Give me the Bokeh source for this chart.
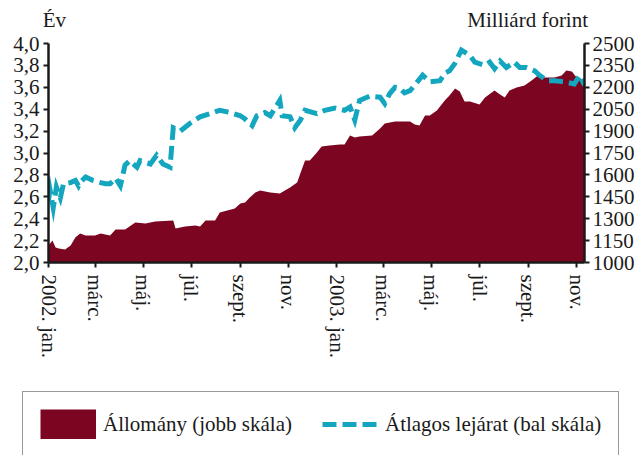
from datetime import datetime
import pandas as pd
from bokeh.plotting import figure
from bokeh.layouts import column
from bokeh.models import (Range1d, LinearAxis, FixedTicker, CustomJSTickFormatter,
                          Legend, LegendItem)
from bokeh.embed import file_html
from bokeh.resources import INLINE

# ---- data ----
stock_dates = ["2002-01-01", "2002-01-06", "2002-01-10", "2002-01-14", "2002-01-22", "2002-01-29",
               "2002-02-04", "2002-02-10", "2002-02-17", "2002-03-01", "2002-03-08", "2002-03-20",
               "2002-03-27", "2002-04-08", "2002-04-21", "2002-05-04", "2002-05-16", "2002-06-08",
               "2002-06-11", "2002-06-23", "2002-07-06", "2002-07-12", "2002-07-19", "2002-07-31",
               "2002-08-06", "2002-08-25", "2002-09-01", "2002-09-07", "2002-09-13", "2002-09-20",
               "2002-09-26", "2002-10-09", "2002-10-21", "2002-11-03", "2002-11-12", "2002-11-16",
               "2002-11-22", "2002-11-28", "2002-12-07", "2002-12-13", "2002-12-23", "2003-01-05",
               "2003-01-11", "2003-01-18", "2003-01-24", "2003-01-30", "2003-02-15", "2003-02-25",
               "2003-03-03", "2003-03-16", "2003-04-04", "2003-04-10", "2003-04-16", "2003-04-23",
               "2003-04-29", "2003-05-08", "2003-05-18", "2003-05-24", "2003-05-31", "2003-06-06",
               "2003-06-12", "2003-06-19", "2003-07-01", "2003-07-08", "2003-07-20", "2003-07-27",
               "2003-08-02", "2003-08-08", "2003-08-17", "2003-08-27", "2003-09-05", "2003-09-13",
               "2003-09-21", "2003-10-04", "2003-10-13", "2003-10-19", "2003-10-26", "2003-11-01",
               "2003-11-11"]
stock_values = [1116, 1151, 1103, 1096, 1089, 1116,
                1171, 1199, 1185, 1185, 1199, 1185,
                1226, 1226, 1274, 1267, 1281, 1288,
                1233, 1247, 1253, 1247, 1288, 1288,
                1342, 1370, 1404, 1411, 1445, 1479,
                1493, 1479, 1473, 1514, 1548, 1610,
                1699, 1699, 1753, 1795, 1801, 1808,
                1808, 1870, 1856, 1863, 1870, 1918,
                1952, 1966, 1966, 1945, 1938, 2007,
                2007, 2041, 2110, 2144, 2192, 2171,
                2103, 2103, 2082, 2130, 2178, 2151,
                2130, 2178, 2199, 2212, 2247, 2281,
                2267, 2267, 2281, 2315, 2308, 2267,
                2247]

maturity_dates = ["2002-01-01", "2002-01-03", "2002-01-07", "2002-01-11", "2002-01-16", "2002-01-20",
                  "2002-01-29", "2002-02-04", "2002-02-08", "2002-02-10", "2002-02-17", "2002-02-26",
                  "2002-03-08", "2002-03-14", "2002-03-20", "2002-03-27", "2002-04-02", "2002-04-08",
                  "2002-04-14", "2002-04-23", "2002-04-27", "2002-05-10", "2002-05-18", "2002-05-26",
                  "2002-06-04", "2002-06-08", "2002-06-17", "2002-06-29", "2002-07-12", "2002-07-25",
                  "2002-08-06", "2002-08-19", "2002-09-01", "2002-09-07", "2002-09-16", "2002-09-22",
                  "2002-10-02", "2002-10-09", "2002-10-21", "2002-10-24", "2002-11-03", "2002-11-09",
                  "2002-11-16", "2002-11-22", "2002-12-07", "2002-12-17", "2002-12-30", "2003-01-11",
                  "2003-01-18", "2003-01-24", "2003-01-30", "2003-02-12", "2003-02-25", "2003-03-03",
                  "2003-03-09", "2003-03-16", "2003-03-22", "2003-03-28", "2003-04-04", "2003-04-10",
                  "2003-04-20", "2003-04-29", "2003-05-12", "2003-05-18", "2003-05-24", "2003-05-31",
                  "2003-06-08", "2003-06-19", "2003-06-25", "2003-07-08", "2003-07-14", "2003-07-20",
                  "2003-07-27", "2003-08-04", "2003-08-14", "2003-08-21", "2003-08-29", "2003-09-09",
                  "2003-09-15", "2003-09-25", "2003-10-04", "2003-10-17", "2003-10-29", "2003-11-05",
                  "2003-11-11"]
maturity_values = [2.57, 2.66, 2.50, 2.69, 2.59, 2.72,
                   2.73, 2.75, 2.70, 2.73, 2.78, 2.75,
                   2.73, 2.72, 2.72, 2.77, 2.70, 2.89,
                   2.93, 2.87, 2.93, 2.90, 2.98, 2.90,
                   2.87, 3.23, 3.20, 3.27, 3.33, 3.36,
                   3.39, 3.37, 3.34, 3.31, 3.25, 3.34,
                   3.37, 3.34, 3.48, 3.34, 3.33, 3.23,
                   3.30, 3.39, 3.36, 3.39, 3.41, 3.39,
                   3.42, 3.30, 3.48, 3.52, 3.51, 3.45,
                   3.54, 3.60, 3.59, 3.55, 3.57, 3.62,
                   3.71, 3.65, 3.66, 3.73, 3.75, 3.82,
                   3.94, 3.89, 3.83, 3.80, 3.83, 3.77,
                   3.84, 3.78, 3.83, 3.78, 3.78, 3.75,
                   3.71, 3.66, 3.66, 3.65, 3.63, 3.71,
                   3.62]

tick_dates = ["2002-01-01", "2002-03-01", "2002-05-01", "2002-07-01", "2002-09-01", "2002-11-01",
              "2003-01-01", "2003-03-01", "2003-05-01", "2003-07-01", "2003-09-01", "2003-11-01"]
tick_labels = ["2002. jan.", "márc.", "máj.", "júl.", "szept.", "nov.",
               "2003. jan.", "márc.", "máj.", "júl.", "szept.", "nov."]

left_ticks = [2.0, 2.2, 2.4, 2.6, 2.8, 3.0, 3.2, 3.4, 3.6, 3.8, 4.0]
right_ticks = [1000, 1150, 1300, 1450, 1600, 1750, 1900, 2050, 2200, 2350, 2500]

axis_titles = ["Év", "Milliárd forint"]
stock_label = "Állomány (jobb skála)"
maturity_label = "Átlagos lejárat (bal skála)"

# ---- styles ----
AREA_COLOR = "#7C0521"
LINE_COLOR = "#14A6BE"
TEXT_COLOR = "#1a1a1a"
FONT = "Liberation Serif"
W = 637
NAN = float("nan")
TITLE_POS = [0.011, 0.894]   # horizontal placement of the two axis titles (fraction of frame)

# ---- main chart ----
sx = pd.to_datetime(stock_dates)
mx = pd.to_datetime(maturity_dates)
tick_ms = [int(pd.Timestamp(d).value // 10**6) for d in tick_dates]

p = figure(width=W, height=390, x_axis_type="datetime",
           x_range=Range1d(datetime(2002, 1, 1), datetime(2003, 11, 11)),
           y_range=Range1d(2.0, 4.0),
           output_backend="svg", toolbar_location=None, frame_align=False,
           min_border_left=48, min_border_right=51, min_border_top=43, min_border_bottom=128)
p.extra_y_ranges = {"right": Range1d(1000, 2500)}
p.extra_x_ranges = {"titles": Range1d(0, 1)}
p.outline_line_color = None
p.xgrid.visible = False
p.ygrid.visible = False

p.varea(x=sx, y1=1000, y2=stock_values, y_range_name="right",
        fill_color=AREA_COLOR, fill_alpha=1)
p.line(x=mx, y=maturity_values, line_color=LINE_COLOR, line_width=5,
       line_dash="14 6", line_join="miter")


def style_axis(ax):
    ax.axis_line_color = TEXT_COLOR
    ax.axis_line_width = 2.5
    ax.major_tick_line_color = TEXT_COLOR
    ax.major_tick_line_width = 2
    ax.major_tick_in = 0
    ax.major_tick_out = 5
    ax.minor_tick_line_color = None
    ax.major_label_text_font = FONT
    ax.major_label_text_font_size = "21px"
    ax.major_label_text_color = TEXT_COLOR


xa = p.xaxis[0]
xa.ticker = FixedTicker(ticks=tick_ms)
xa.major_label_overrides = {t: lab for t, lab in zip(tick_ms, tick_labels)}
xa.major_label_orientation = "vertical"
xa.major_label_standoff = 7
style_axis(xa)

ya = p.yaxis[0]
ya.ticker = FixedTicker(ticks=left_ticks)
ya.formatter = CustomJSTickFormatter(code="return tick.toFixed(1).replace('.', ',');")
ya.major_label_standoff = 4
style_axis(ya)

ra = LinearAxis(y_range_name="right", ticker=FixedTicker(ticks=right_ticks))
ra.formatter = CustomJSTickFormatter(code="return tick.toFixed(0);")
ra.major_label_standoff = 3
style_axis(ra)
p.add_layout(ra, "right")

# axis titles ("Év" above the left scale, "Milliárd forint" above the right scale)
ta = LinearAxis(x_range_name="titles", ticker=FixedTicker(ticks=TITLE_POS),
                formatter=CustomJSTickFormatter(args=dict(labels=axis_titles),
                                                code="return labels[index];"))
style_axis(ta)
ta.axis_line_color = None
ta.major_tick_line_color = None
ta.major_tick_out = 0
ta.major_label_standoff = 12
p.add_layout(ta, "above")

# ---- legend strip (keys use invisible NaN-only renderers) ----
bottom = figure(width=W, height=65, x_range=Range1d(0, 1), y_range=Range1d(0, 1),
                output_backend="svg", toolbar_location=None,
                x_axis_location=None, y_axis_location=None, frame_align=False,
                min_border_left=0, min_border_right=0, min_border_top=0, min_border_bottom=0)
bottom.outline_line_color = None
bottom.xgrid.visible = False
bottom.ygrid.visible = False
key_area = bottom.line(x=[NAN], y=[NAN], line_color=AREA_COLOR, line_width=30, line_cap="butt")
key_line = bottom.line(x=[NAN], y=[NAN], line_color=LINE_COLOR, line_width=5,
                       line_dash="14 6", line_cap="butt")
leg = Legend(items=[LegendItem(label=stock_label, renderers=[key_area]),
                    LegendItem(label=maturity_label, renderers=[key_line])],
             location=(22, -2), orientation="horizontal",
             padding=17, margin=0, spacing=30, glyph_width=56, glyph_height=30,
             label_standoff=7, label_height=30,
             label_text_font=FONT, label_text_font_size="21px", label_text_color=TEXT_COLOR,
             label_text_baseline="middle",
             border_line_color="#333333", border_line_width=1.5,
             background_fill_color="white", background_fill_alpha=1)
bottom.add_layout(leg)

layout = column(p, bottom, spacing=0)
open("out.html", "w").write(file_html(layout, INLINE))
